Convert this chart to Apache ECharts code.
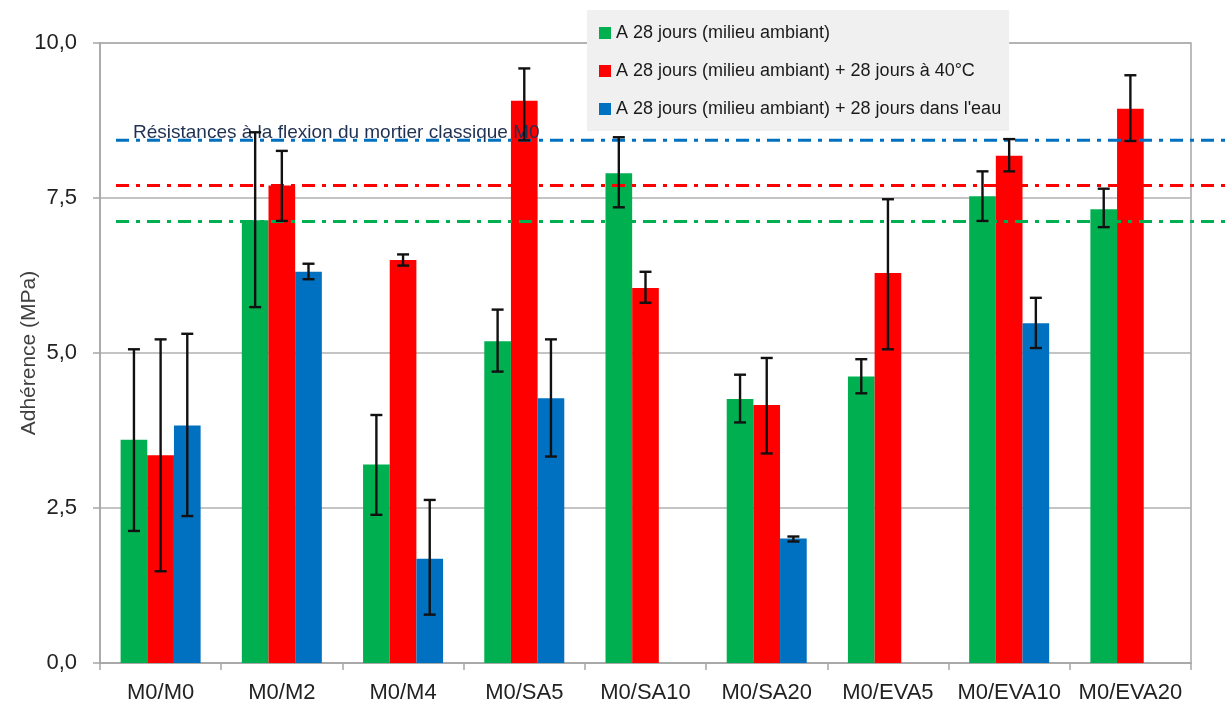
<!DOCTYPE html>
<html>
<head>
<meta charset="utf-8">
<script src="https://cdn.jsdelivr.net/npm/echarts@6/dist/echarts.min.js"></script>
<style>html,body{margin:0;padding:0;background:#fff;}#c{width:1229px;height:704px;}</style>
</head>
<body>
<div id="c"></div>
<script>
// ---- data ----
var categories = ['M0/M0','M0/M2','M0/M4','M0/SA5','M0/SA10','M0/SA20','M0/EVA5','M0/EVA10','M0/EVA20'];
var seriesNames = ['A 28 jours (milieu ambiant)', 'A 28 jours (milieu ambiant) + 28 jours à 40°C', "A 28 jours (milieu ambiant) + 28 jours dans l'eau"];
var greenVals  = [3.60, 7.14, 3.20, 5.19, 7.90, 4.26, 4.62, 7.53, 7.32];
var greenLow   = [2.13, 5.74, 2.39, 4.70, 7.35, 3.88, 4.35, 7.13, 7.03];
var greenHigh  = [5.06, 8.56, 4.00, 5.70, 8.48, 4.65, 4.90, 7.93, 7.65];
var redVals    = [3.35, 7.70, 6.50, 9.07, 6.05, 4.16, 6.29, 8.18, 8.94];
var redLow     = [1.48, 7.13, 6.41, 8.43, 5.81, 3.38, 5.06, 7.93, 8.42];
var redHigh    = [5.22, 8.26, 6.59, 9.59, 6.31, 4.92, 7.48, 8.45, 9.48];
var blueVals   = [3.83, 6.31, 1.68, 4.27, null, 2.01, null, 5.48, null];
var blueLow    = [2.37, 6.19, 0.78, 3.33, null, 1.96, null, 5.08, null];
var blueHigh   = [5.31, 6.44, 2.63, 5.22, null, 2.04, null, 5.89, null];
var refValues  = [8.43, 7.70, 7.12];   // blue, red, green reference lines
var refLabel   = 'Résistances à la flexion du mortier classique M0';
var yTicks     = [0, 2.5, 5, 7.5, 10];
var yName      = 'Adhérence (MPa)';

// ---- styles ----
var colors = ['#00b050', '#ff0000', '#0070c0'];
var refColors = ['#0070c0', '#ff0000', '#00b050'];
var FONT = '"Liberation Sans", Arial, sans-serif';
var CAT_GAP = 0.34;

function errSeries(idx, lows, highs) {
  var data = [];
  lows.forEach(function (l, i) { if (l != null) data.push([i, l, highs[i]]); });
  return {
    type: 'custom', z: 10, silent: true,
    xAxisIndex: 0, yAxisIndex: 0,
    encode: { x: 0, y: [1, 2] },
    data: data,
    renderItem: function (params, api) {
      var ci = api.value(0);
      var lo = api.coord([ci, api.value(1)]);
      var hi = api.coord([ci, api.value(2)]);
      var catW = api.size([1, 0])[0];
      var bw = catW * (1 - CAT_GAP) / 3;
      var x = lo[0] + (idx - 1) * bw;
      var cap = 6;
      var st = { stroke: '#111', lineWidth: 2.4 };
      return { type: 'group', children: [
        { type: 'line', shape: { x1: x, y1: hi[1], x2: x, y2: lo[1] }, style: st },
        { type: 'line', shape: { x1: x - cap, y1: hi[1], x2: x + cap, y2: hi[1] }, style: st },
        { type: 'line', shape: { x1: x - cap, y1: lo[1], x2: x + cap, y2: lo[1] }, style: st }
      ]};
    }
  };
}

var chart = echarts.init(document.getElementById('c'), null, { renderer: 'canvas' });
var gridBox = { left: 100, right: 38, top: 43, bottom: 41 };
var option = {
  animation: false,
  textStyle: { fontFamily: FONT },
  grid: [
    { left: gridBox.left, right: gridBox.right, top: gridBox.top, bottom: gridBox.bottom,
      containLabel: false, outerBoundsMode: 'none',
      show: true, borderColor: '#a6a6a6', borderWidth: 1.5 },
    { left: 116, right: 0, top: gridBox.top, bottom: gridBox.bottom,
      containLabel: false, outerBoundsMode: 'none' }
  ],
  legend: {
    data: seriesNames,
    orient: 'vertical', left: 587, top: 10,
    padding: [14, 8, 13, 12],
    itemGap: 20, itemWidth: 12, itemHeight: 12, icon: 'rect',
    backgroundColor: '#f0f0f0',
    textStyle: { fontSize: 18, color: '#1a1a1a', fontFamily: FONT },
    z: 20
  },
  xAxis: [
    { type: 'category', gridIndex: 0, data: categories,
      axisLine: { lineStyle: { color: '#a6a6a6', width: 1.5 } },
      axisTick: { show: true, length: 7, interval: 0, lineStyle: { color: '#a6a6a6', width: 1.5 } },
      axisLabel: { fontSize: 22, color: '#222', margin: 19, interval: 0, fontFamily: FONT },
      splitLine: { show: false } },
    { type: 'value', gridIndex: 1, min: 0, max: 1, show: false }
  ],
  yAxis: [
    { type: 'value', gridIndex: 0, min: yTicks[0], max: yTicks[yTicks.length - 1], interval: yTicks[1] - yTicks[0],
      name: yName, nameLocation: 'middle', nameGap: 60, nameMoveOverlap: false,
      nameTextStyle: { fontSize: 21, color: '#404040', fontFamily: FONT },
      axisLine: { show: true, lineStyle: { color: '#a6a6a6', width: 1.5 } },
      axisTick: { show: true, length: 7, lineStyle: { color: '#a6a6a6', width: 1.5 } },
      axisLabel: { fontSize: 22, color: '#222', margin: 23, fontFamily: FONT,
        formatter: function (v) { return v.toFixed(1).replace('.', ','); } },
      splitLine: { lineStyle: { color: '#b0b0b0', width: 1.5 } } },
    { type: 'value', gridIndex: 1, min: 0, max: 10, show: false }
  ],
  series: [
    { name: seriesNames[0], type: 'bar', data: greenVals, itemStyle: { color: colors[0] },
      barGap: '0%', barCategoryGap: (CAT_GAP * 100) + '%', z: 2 },
    { name: seriesNames[1], type: 'bar', data: redVals, itemStyle: { color: colors[1] }, z: 2 },
    { name: seriesNames[2], type: 'bar', data: blueVals, itemStyle: { color: colors[2] }, z: 2 }
  ].concat(refValues.map(function (v, i) {
    return { type: 'line', xAxisIndex: 1, yAxisIndex: 1, z: 5, silent: true,
      symbol: 'none', data: [[0, v], [1, v]],
      lineStyle: { color: refColors[i], width: 3, type: [13, 7, 4, 7] } };
  })).concat([
    errSeries(0, greenLow, greenHigh),
    errSeries(1, redLow, redHigh),
    errSeries(2, blueLow, blueHigh)
  ])
};
chart.setOption(option);
var p = chart.convertToPixel({ xAxisIndex: 1, yAxisIndex: 1 }, [0, refValues[0]]);
chart.setOption({ graphic: [{ type: 'text', z: 6, x: p[0] + 17, y: p[1] + 2,
  style: { text: refLabel, fontSize: 19, fill: '#1f3050', fontFamily: FONT, verticalAlign: 'bottom' } }] });
</script>
</body>
</html>
